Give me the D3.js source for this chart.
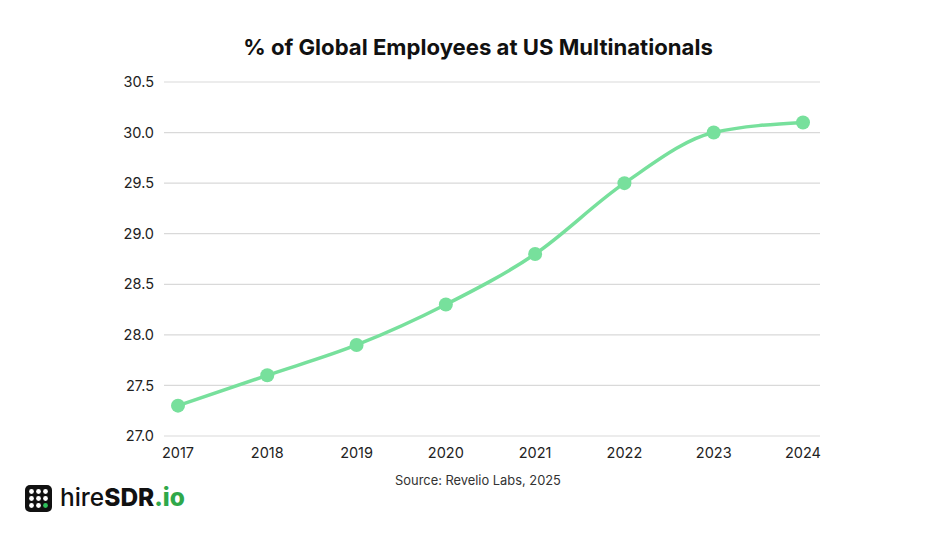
<!DOCTYPE html>
<html><head><meta charset="utf-8">
<script src="https://cdn.jsdelivr.net/npm/d3@7"></script>
<style>body{margin:0;background:#fff;} svg{display:block;}</style>
</head><body>
<svg id="c" width="950" height="533"></svg>
<script>
const years = ["2017","2018","2019","2020","2021","2022","2023","2024"];
const values = [27.3, 27.6, 27.9, 28.3, 28.8, 29.5, 30.0, 30.1];
const yTicks = [27.0, 27.5, 28.0, 28.5, 29.0, 29.5, 30.0, 30.5];
const titleText = "% of Global Employees at US Multinationals";
const sourceText = "Source: Revelio Labs, 2025";

const svg = d3.select("#c");
const FONT = "Inter, 'Open Sans', sans-serif";
const gridL = 164, gridR = 820;
const x = d3.scalePoint().domain(years).range([178, 803]);
const y = d3.scaleLinear().domain([27.0, 30.5]).range([436, 82]);

// fit helper
function fit(sel, w) {
  const cur = sel.node().getComputedTextLength();
  const fs = parseFloat(sel.attr("font-size"));
  sel.attr("font-size", fs * w / cur);
}

// grid
svg.append("g").selectAll("line").data(yTicks).join("line")
  .attr("x1", gridL).attr("x2", gridR)
  .attr("y1", d => y(d)).attr("y2", d => y(d))
  .attr("stroke", "#d9d9d9").attr("stroke-width", 1.2);

// y labels
svg.append("g").selectAll("text").data(yTicks).join("text")
  .attr("x", 154).attr("y", d => y(d)).attr("dy", "0.35em")
  .attr("text-anchor", "end").attr("font-family", FONT).attr("font-size", 14.5)
  .attr("fill", "#222").text(d => d.toFixed(1));

// x labels
svg.append("g").selectAll("text").data(years).join("text")
  .attr("x", d => x(d)).attr("y", 458)
  .attr("text-anchor", "middle").attr("font-family", FONT).attr("font-size", 14.5)
  .attr("fill", "#222").text(d => d);

// line
const pts = years.map((yr, i) => [x(yr), y(values[i])]);
svg.append("path").attr("d", d3.line().curve(d3.curveMonotoneX)(pts))
  .attr("fill", "none").attr("stroke", "#77e09c").attr("stroke-width", 3.5);
svg.append("g").selectAll("circle").data(pts).join("circle")
  .attr("cx", d => d[0]).attr("cy", d => d[1]).attr("r", 7)
  .attr("fill", "#77e09c");

// title
const t = svg.append("text").attr("x", 478).attr("y", 55)
  .attr("text-anchor", "middle").attr("font-family", FONT).attr("font-weight", 700)
  .attr("font-size", 21).attr("fill", "#111").text(titleText);
fit(t, 470);

// source
const s = svg.append("text").attr("x", 478).attr("y", 485)
  .attr("text-anchor", "middle").attr("font-family", FONT)
  .attr("font-size", 13).attr("fill", "#333").text(sourceText);
fit(s, 166);

// logo
const lg = svg.append("g");
lg.append("rect").attr("x", 25).attr("y", 485).attr("width", 27).attr("height", 27)
  .attr("rx", 5).attr("fill", "#111");
for (let r = 0; r < 3; r++) for (let c = 0; c < 3; c++) {
  lg.append("circle").attr("cx", 31.5 + c * 7).attr("cy", 491.5 + r * 7).attr("r", 2.4)
    .attr("fill", (r === 2 && c === 2) ? "#2fc25b" : "#fff");
}
const lt = lg.append("text").attr("x", 60).attr("y", 506)
  .attr("font-family", FONT).attr("font-size", 22).attr("fill", "#111");
lt.append("tspan").attr("font-weight", 500).text("hire");
lt.append("tspan").attr("font-weight", 800).text("SDR");
lt.append("tspan").attr("font-weight", 800).attr("fill", "#2fa84a").text(".io");
fit(lt, 125);
</script>
</body></html>
